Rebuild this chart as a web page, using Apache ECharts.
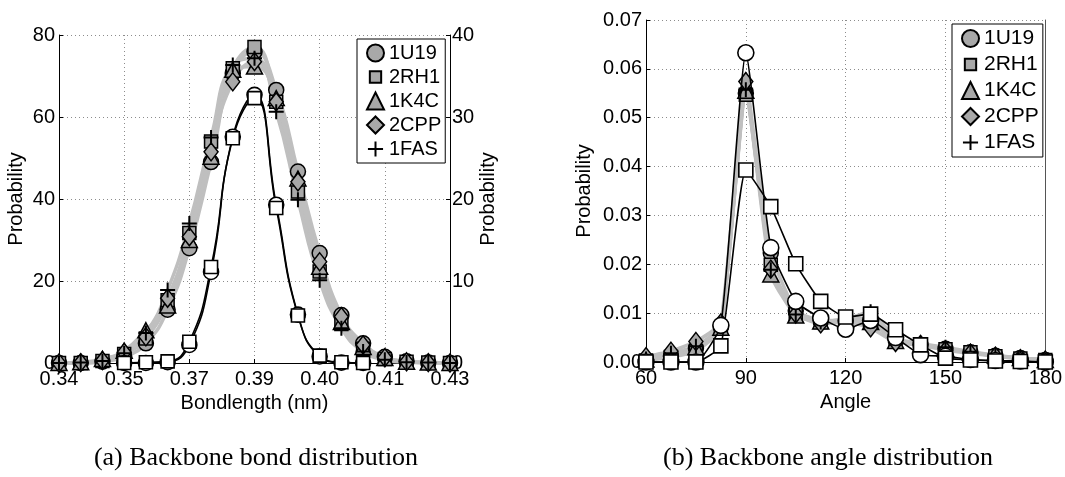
<!DOCTYPE html>
<html>
<head>
<meta charset="utf-8">
<script src="https://cdn.jsdelivr.net/npm/echarts@6/dist/echarts.min.js"></script>
<style>
  html, body { margin: 0; padding: 0; background: #fff; }
  #chart { width: 1065px; height: 477px; }
</style>
</head>
<body>
<div id="chart"></div>
<script>
// ---- Backbone bond length distribution (nm), sampled every 0.005 nm ----
const bondX = [0.340, 0.345, 0.350, 0.355, 0.360, 0.365, 0.370, 0.375, 0.380, 0.385,
               0.390, 0.395, 0.400, 0.405, 0.410, 0.415, 0.420, 0.425, 0.430];
const bond1U19 = [0, 0, 0.3, 1.5, 4.8, 13.0, 28.0, 49.0, 70.7, 75.9, 66.6, 46.7, 26.8, 11.7, 4.8, 1.5, 0.4, 0.1, 0];
const bond2RH1 = [0, 0, 0.5, 2.2, 6.0, 15.3, 31.7, 54.0, 71.9, 77.1, 63.7, 41.8, 22.3, 9.5, 3.5, 1.0, 0.3, 0.1, 0];
const bond1K4C = [0, 0.2, 1.0, 3.0, 8.0, 14.0, 30.0, 50.3, 71.5, 72.3, 64.6, 45.0, 23.5, 10.0, 3.9, 1.2, 0.3, 0.1, 0];
const bond2CPP = [0, 0.1, 0.6, 2.6, 6.4, 15.8, 30.8, 51.5, 68.6, 73.5, 63.7, 44.2, 24.7, 11.3, 4.4, 1.3, 0.3, 0.1, 0];
const bond1FAS = [0, 0.1, 0.5, 2.4, 7.3, 17.8, 34.0, 55.0, 72.7, 74.3, 61.3, 39.8, 20.2, 8.5, 2.8, 0.8, 0.2, 0.1, 0];

// narrow reference distribution, read on the right-hand axis
const bondRefX = [0.355, 0.360, 0.365, 0.370, 0.375, 0.380, 0.385, 0.390, 0.395, 0.400, 0.405, 0.410];
const bondRefCircle = [0, 0, 0.1, 2.2, 11.1, 27.6, 32.7, 19.3, 5.9, 0.8, 0.05, 0];
const bondRefSquare = [0, 0.1, 0.2, 2.6, 11.7, 27.4, 32.3, 18.9, 5.8, 0.9, 0.1, 0];

const bondTicks = [0.34, 0.355, 0.37, 0.385, 0.40, 0.415, 0.43];
const bondTickLabels = ['0.34', '0.35', '0.37', '0.39', '0.40', '0.41', '0.43'];

// ---- Backbone angle distribution (degrees), sampled every 7.5 deg ----
const angleX = [60, 67.5, 75, 82.5, 90, 97.5, 105, 112.5, 120, 127.5, 135, 142.5, 150, 157.5, 165, 172.5, 180];
const angle1U19 = [0.0004, 0.0012, 0.0028, 0.0072, 0.0550, 0.0223, 0.0105, 0.0085, 0.0085, 0.0078, 0.0048, 0.0035, 0.0027, 0.0020, 0.0013, 0.0008, 0.0004];
const angle2RH1 = [0.0003, 0.0010, 0.0022, 0.0068, 0.0547, 0.0199, 0.0098, 0.0082, 0.0088, 0.0090, 0.0045, 0.0033, 0.0026, 0.0020, 0.0012, 0.0007, 0.0004];
const angle1K4C = [0.0005, 0.0015, 0.0030, 0.0070, 0.0555, 0.0179, 0.0095, 0.0083, 0.0086, 0.0082, 0.0043, 0.0034, 0.0027, 0.0020, 0.0013, 0.0008, 0.0004];
const angle2CPP = [0.0011, 0.0022, 0.0042, 0.0080, 0.0574, 0.0190, 0.0098, 0.0078, 0.0082, 0.0070, 0.0040, 0.0036, 0.0024, 0.0018, 0.0012, 0.0007, 0.0004];
const angle1FAS = [0.0006, 0.0018, 0.0032, 0.0074, 0.0557, 0.0189, 0.0097, 0.0082, 0.0088, 0.0103, 0.0048, 0.0038, 0.0030, 0.0021, 0.0014, 0.0008, 0.0004];

const angleRefCircle = [0, 0, 0, 0.0075, 0.0633, 0.0234, 0.0124, 0.0090, 0.0067, 0.0085, 0.0050, 0.0015, 0.0012, 0.0005, 0.0003, 0.0002, 0];
const angleRefSquare = [0, 0, 0, 0.0033, 0.0393, 0.0318, 0.0201, 0.0124, 0.0092, 0.0098, 0.0066, 0.0035, 0.0008, 0.0004, 0.0002, 0.0001, 0];

const proteins = ['1U19', '2RH1', '1K4C', '2CPP', '1FAS'];
const bondSets = [bond1U19, bond2RH1, bond1K4C, bond2CPP, bond1FAS];
const angleSets = [angle1U19, angle2RH1, angle1K4C, angle2CPP, angle1FAS];

// ---- styling ----
const SANS = '"Liberation Sans", Arial, Helvetica, sans-serif';
const SERIF = '"Liberation Serif", "Times New Roman", serif';
const PLUS = 'path://M0,7H14M7,0V14';
const markerShape = [
  { symbol: 'circle', size: 15 },
  { symbol: 'rect', size: 13 },
  { symbol: 'triangle', size: [16, 15] },
  { symbol: 'diamond', size: [14, 18] },
  { symbol: PLUS, size: 15 }
];
const legendIcons = [
  'circle',
  'path://M0,0M18,18M3,3H15V15H3Z',
  'triangle',
  'diamond',
  'path://M1,9H17M9,1V17M0,0M18,18'
];
const GRAY_LINE = '#bfbfbf';
const GRAY_FILL = '#a8a8a8';
const dotted = { show: true, lineStyle: { color: '#8c8c8c', width: 1, type: [1, 3] } };
const blackLine = { show: true, lineStyle: { color: '#000', width: 1 } };
const innerTick = { show: true, inside: true, length: 4, lineStyle: { color: '#000' } };
const tickFont = { color: '#000', fontSize: 20, fontFamily: SANS };
const nameFont = { color: '#000', fontSize: 20, fontFamily: SANS };

const pairs = (xs, ys) => xs.map((x, i) => [x, ys[i]]);

const series = [];

// gray curves (drawn first, beneath all markers)
bondSets.forEach((ys, i) => series.push({
  name: proteins[i] + ' bond curve', type: 'line', xAxisIndex: 0, yAxisIndex: 0,
  data: pairs(bondX, ys), smooth: 0.5, showSymbol: false, silent: true, z: 2,
  lineStyle: { color: GRAY_LINE, width: 3.5 }
}));
angleSets.forEach((ys, i) => series.push({
  name: proteins[i] + ' angle curve', type: 'line', xAxisIndex: 1, yAxisIndex: 2,
  data: pairs(angleX, ys), smooth: 0.15, showSymbol: false, silent: true, z: 2,
  lineStyle: { color: GRAY_LINE, width: 3.5 }
}));

// gray filled markers
bondSets.forEach((ys, i) => series.push({
  name: proteins[i], type: 'scatter', xAxisIndex: 0, yAxisIndex: 0,
  data: pairs(bondX, ys), symbol: markerShape[i].symbol, symbolSize: markerShape[i].size, z: 4,
  itemStyle: { color: GRAY_FILL, borderColor: '#000', borderWidth: i === 4 ? 2 : 1.5, opacity: 1 }
}));
angleSets.forEach((ys, i) => series.push({
  name: proteins[i], type: 'scatter', xAxisIndex: 1, yAxisIndex: 2,
  data: pairs(angleX, ys), symbol: markerShape[i].symbol, symbolSize: markerShape[i].size, z: 4,
  itemStyle: { color: GRAY_FILL, borderColor: '#000', borderWidth: i === 4 ? 2 : 1.5, opacity: 1 }
}));

// black reference curves with open markers
const openLine = (name, xi, yi, xs, ys, symbol, size, smooth) => ({
  name, type: 'line', xAxisIndex: xi, yAxisIndex: yi, data: pairs(xs, ys),
  smooth, symbol, symbolSize: size, showAllSymbol: true, z: 6,
  lineStyle: { color: '#000', width: 1.6 },
  itemStyle: { color: '#fff', borderColor: '#000', borderWidth: 1.6 }
});
series.push(openLine('bond ref (circle)', 0, 1, bondRefX, bondRefCircle, 'circle', 15, 0.5));
series.push(openLine('bond ref (square)', 0, 1, bondRefX, bondRefSquare, 'rect', 13, 0.5));
series.push(openLine('angle ref (circle)', 1, 2, angleX, angleRefCircle, 'circle', 16, 0.15));
series.push(openLine('angle ref (square)', 1, 2, angleX, angleRefSquare, 'rect', 14, 0.15));

const legendData = proteins.map((p, i) => ({ name: p, icon: legendIcons[i] }));
const legendBase = {
  orient: 'vertical', data: legendData, selectedMode: false,
  backgroundColor: '#fff', borderColor: '#000', borderWidth: 1, borderRadius: 0,
  itemWidth: 17, itemHeight: 17, itemGap: 4, inactiveColor: GRAY_FILL
};

const option = {
  animation: false,
  backgroundColor: '#fff',
  textStyle: { fontFamily: SANS },
  grid: [
    { left: 59, top: 35, width: 391, height: 328 },
    { left: 646, top: 20, width: 402, height: 342 }
  ],
  xAxis: [
    {
      gridIndex: 0, type: 'value', min: 0.34, max: 0.43,
      name: 'Bondlength (nm)', nameLocation: 'middle', nameGap: 21, nameTextStyle: nameFont,
      axisLine: blackLine,
      axisTick: Object.assign({ customValues: bondTicks }, innerTick),
      axisLabel: Object.assign({
        customValues: bondTicks, margin: 6,
        formatter: v => {
          const k = bondTicks.findIndex(t => Math.abs(t - v) < 1e-6);
          return k >= 0 ? bondTickLabels[k] : '';
        }
      }, tickFont),
      splitLine: dotted
    },
    {
      gridIndex: 1, type: 'value', min: 60, max: 180, interval: 30,
      name: 'Angle', nameLocation: 'middle', nameGap: 21, nameTextStyle: nameFont,
      axisLine: blackLine, axisTick: innerTick,
      axisLabel: Object.assign({ margin: 6 }, tickFont),
      splitLine: dotted
    }
  ],
  yAxis: [
    {
      gridIndex: 0, type: 'value', position: 'left', min: 0, max: 80, interval: 20,
      name: 'Probability', nameLocation: 'middle', nameGap: 33, nameRotate: 90, nameTextStyle: nameFont,
      axisLine: blackLine, axisTick: innerTick,
      axisLabel: Object.assign({ margin: 4 }, tickFont),
      splitLine: dotted
    },
    {
      gridIndex: 0, type: 'value', position: 'right', min: 0, max: 40, interval: 10,
      name: 'Probability', nameLocation: 'middle', nameGap: 27, nameRotate: 90, nameTextStyle: nameFont,
      axisLine: blackLine, axisTick: innerTick,
      axisLabel: Object.assign({ margin: 2 }, tickFont),
      splitLine: { show: false }
    },
    {
      gridIndex: 1, type: 'value', position: 'left', min: 0, max: 0.07, interval: 0.01,
      name: 'Probability', nameLocation: 'middle', nameGap: 52, nameRotate: 90, nameTextStyle: nameFont,
      axisLine: blackLine, axisTick: innerTick,
      axisLabel: Object.assign({ margin: 4, formatter: v => v.toFixed(2) }, tickFont),
      splitLine: dotted
    },
    {
      gridIndex: 1, type: 'value', position: 'right', min: 0, max: 0.07,
      axisLine: { show: true, lineStyle: { color: '#555', width: 1 } },
      axisTick: { show: false }, axisLabel: { show: false }, splitLine: { show: false }
    }
  ],
  legend: [
    Object.assign({}, legendBase, {
      left: 357, top: 39, padding: [4, 4, 4, 9],
      textStyle: { color: '#000', fontSize: 20, fontFamily: SANS }
    }),
    Object.assign({}, legendBase, {
      left: 952, top: 24, padding: [4, 4, 4, 9], itemGap: 5,
      textStyle: { color: '#000', fontSize: 21, fontFamily: SANS }
    })
  ],
  graphic: [
    {
      type: 'text', x: 256, y: 458, silent: true,
      style: { text: '(a) Backbone bond distribution', fontSize: 26, fontFamily: SERIF, fill: '#000',
               align: 'center', verticalAlign: 'middle', textAlign: 'center', textVerticalAlign: 'middle' }
    },
    {
      type: 'text', x: 828, y: 458, silent: true,
      style: { text: '(b) Backbone angle distribution', fontSize: 26, fontFamily: SERIF, fill: '#000',
               align: 'center', verticalAlign: 'middle', textAlign: 'center', textVerticalAlign: 'middle' }
    }
  ],
  series
};

const chart = echarts.init(document.getElementById('chart'), null, { renderer: 'canvas' });
chart.setOption(option);
</script>
</body>
</html>
